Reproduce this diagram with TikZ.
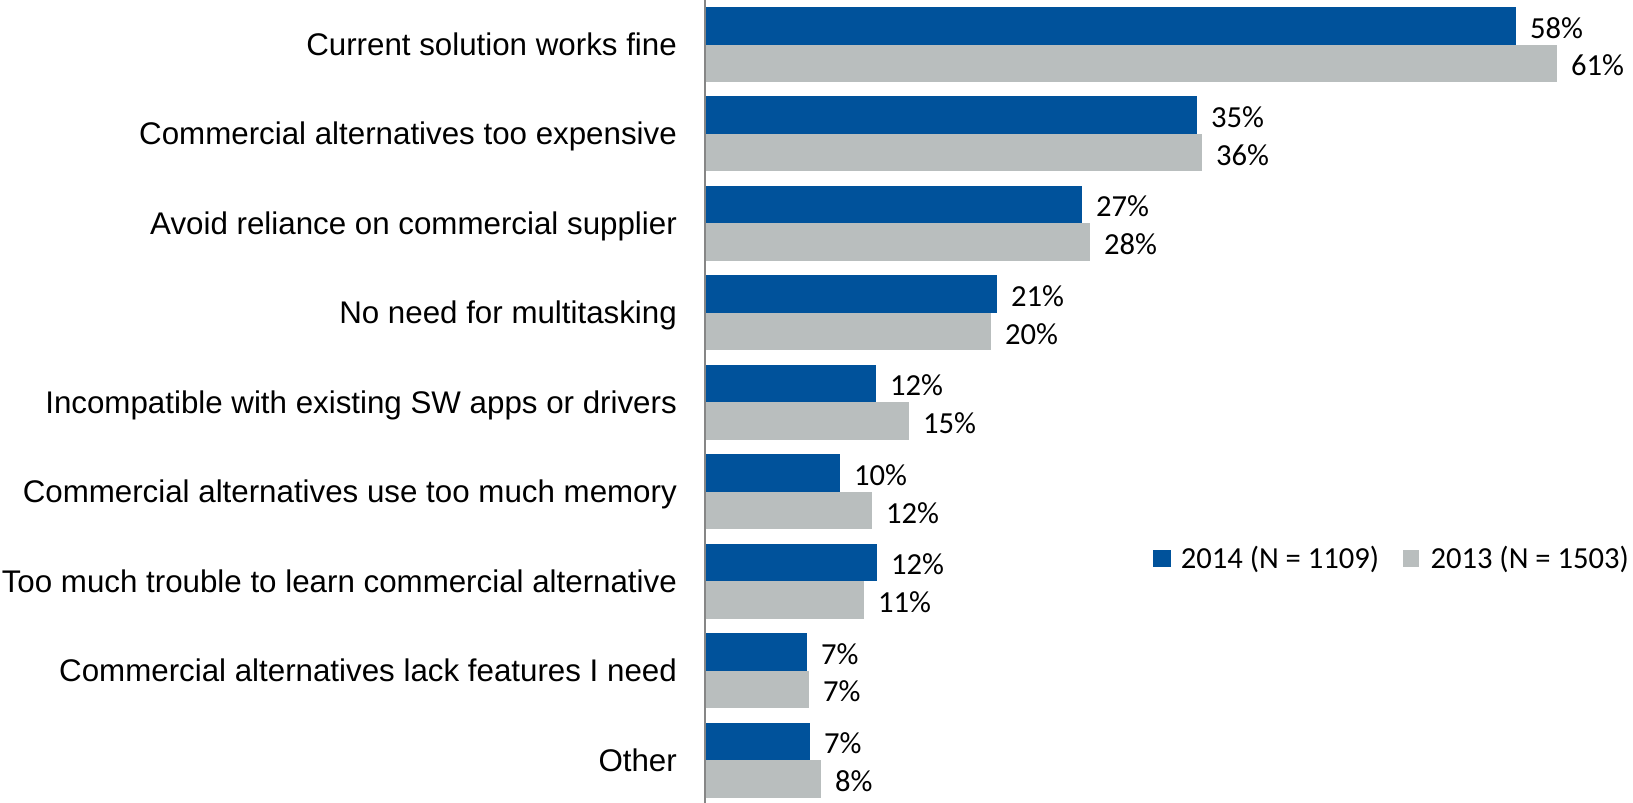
\documentclass[tikz,border=0pt]{standalone}
\usepackage{fontspec}
\setmainfont{Liberation Sans}
\newfontfamily\valfont{Carlito}
\definecolor{blue14}{RGB}{0,82,155}
\definecolor{gray13}{RGB}{185,190,190}
\definecolor{axisgray}{RGB}{134,134,134}
\tikzset{
  catlabel/.style={anchor=base east, inner sep=0pt, font=\fontsize{31.3}{36}\selectfont},
  vallabel/.style={anchor=base west, inner sep=0pt, font=\valfont\fontsize{30.6}{36}\selectfont},
  bar2014/.style={fill=blue14},
  bar2013/.style={fill=gray13},
}
\begin{document}
\begin{tikzpicture}[x=1pt,y=-1pt]
\useasboundingbox (0,0) rectangle (1633,803);
% category rows: index / label / 2014 bar end / 2013 bar end / 2014 value / 2013 value
\foreach \i/\txt/\b/\g/\vb/\vg in {
  0/Current solution works fine/1516/1557/58/61,
  1/Commercial alternatives too expensive/1197/1202/35/36,
  2/Avoid reliance on commercial supplier/1082/1090/27/28,
  3/No need for multitasking/997/991/21/20,
  4/Incompatible with existing SW apps or drivers/876/909/12/15,
  5/Commercial alternatives use too much memory/840/872/10/12,
  6/Too much trouble to learn commercial alternative/877/864/12/11,
  7/Commercial alternatives lack features I need/807/809/7/7,
  8/Other/810/821/7/8}{
  \pgfmathsetmacro\c{44.5+89.44*\i}
  \path[bar2014] (705,\c-37.5) rectangle (\b,\c);
  \path[bar2013] (705,\c) rectangle (\g,\c+37.5);
  \node[catlabel] (cat\i) at (677,\c+11) {\txt};
  \node[vallabel] (v14-\i) at (\b+14,\c-6.5) {\vb\%};
  \node[vallabel] (v13-\i) at (\g+14,\c+31.3) {\vg\%};
}
% category axis
\draw[axisgray, line width=1.3pt] (705,0) -- (705,803);
% legend
\path[bar2014] (1153.4,549.9) rectangle (1170.7,566.6);
\node[vallabel] (leg14) at (1180.6,568) {2014 (N = 1109)};
\path[bar2013] (1403.3,549.9) rectangle (1419.4,566.6);
\node[vallabel] (leg13) at (1430.3,568) {2013 (N = 1503)};
\end{tikzpicture}
\end{document}
